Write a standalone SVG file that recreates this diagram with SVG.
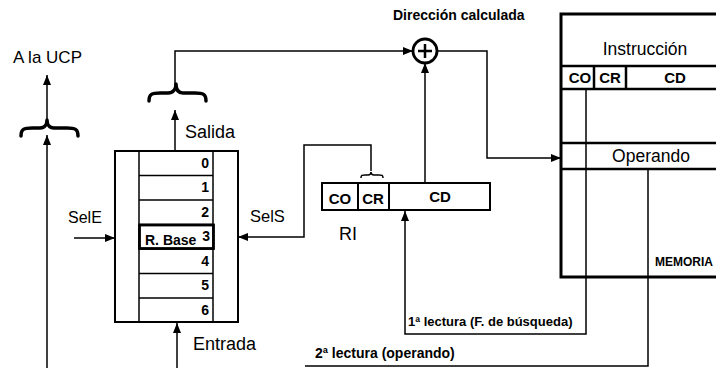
<svg xmlns="http://www.w3.org/2000/svg" width="716" height="368" viewBox="0 0 716 368">
<defs>
<marker id="ah" viewBox="0 0 10 8" refX="10" refY="4" markerWidth="10" markerHeight="8" markerUnits="userSpaceOnUse" orient="auto">
<path d="M0,0 L10,4 L0,8 Z" fill="#000"/>
</marker>
<style>
text{font-family:"Liberation Sans",Arial,sans-serif;fill:#000}
.b{font-weight:bold}
.c{stroke:#000;stroke-width:1.5;fill:none}
.a{marker-end:url(#ah)}
.box{stroke:#000;stroke-width:2;fill:#fff}
.thick{stroke:#000;stroke-width:3;fill:none}
.brace{stroke:#000;stroke-width:3.5;fill:none;stroke-linecap:round;stroke-linejoin:round}
</style>
</defs>
<rect width="716" height="368" fill="#fff"/>

<g id="connectors">
<path class="c a" d="M47,368 V135"/>
<path class="c a" d="M47,119 V75"/>
<path class="c a" d="M74,238 H115"/>
<path class="c a" d="M175,151 V110"/>
<path class="c a" d="M177,368 V323"/>
<path class="c a" d="M175,85 V51 H413"/>
<path class="c a" d="M437,51 H487 V158 H561"/>
<path class="c a" d="M425,183 V63"/>
<path class="c a" d="M371,171 V145 H304 V237 H238"/>
<path class="c a" d="M586,277 V334 H405 V211"/>
<path class="c" d="M648,169 V366 H305"/>
</g>

<g id="ucp">
<text x="13" y="63" font-size="17">A la UCP</text>
<path class="brace" d="M21,136 C21,129 24,128 32,128 L40,128 C45,128 47,124 47,120 C47,124 49,128 54,128 L67,128 C75,128 78,129 78,136"/>
</g>

<g id="salida-brace">
<path class="brace" d="M149,101 C149,94 152,93 160,93 L168,93 C173,93 176,89 176,84 C176,89 178,93 183,93 L195,93 C203,93 206,94 206,101"/>
<text x="185" y="138" font-size="18">Salida</text>
</g>

<g id="registers">
<rect class="box" x="115" y="151" width="123" height="171"/>
<line class="c" x1="139" y1="151" x2="139" y2="322"/>
<line class="c" x1="213" y1="151" x2="213" y2="322"/>
<line class="c" x1="139" y1="175.5" x2="213" y2="175.5"/>
<line class="c" x1="139" y1="200" x2="213" y2="200"/>
<line class="c" x1="139" y1="224.5" x2="213" y2="224.5"/>
<line class="c" x1="139" y1="249" x2="213" y2="249"/>
<line class="c" x1="139" y1="273.5" x2="213" y2="273.5"/>
<line class="c" x1="139" y1="298" x2="213" y2="298"/>
<rect x="139.5" y="225" width="74" height="23.5" fill="none" stroke="#000" stroke-width="2.8"/>
<g class="b" font-size="14" text-anchor="end">
<text x="209" y="168">0</text>
<text x="209" y="192">1</text>
<text x="209" y="217">2</text>
<text x="210" y="241">3</text>
<text x="209" y="266">4</text>
<text x="209" y="290">5</text>
<text x="209" y="315">6</text>
</g>
<text class="b" x="145" y="245" font-size="14">R. Base</text>
<text x="68" y="223" font-size="16">SelE</text>
<text x="250" y="222" font-size="16.5">SelS</text>
<text x="193" y="350" font-size="18">Entrada</text>
</g>

<g id="adder">
<circle cx="425" cy="51" r="12" fill="#fff" stroke="#000" stroke-width="2.8"/>
<path d="M425,44 V58 M418,51 H432" stroke="#000" stroke-width="2.5"/>
<text class="b" x="393" y="20" font-size="14">Dirección calculada</text>
</g>

<g id="ri">
<rect class="box" x="389" y="183" width="101" height="27"/>
<rect class="box" x="322" y="183" width="36" height="27" stroke-width="2.5"/>
<rect class="box" x="358" y="183" width="31" height="27" stroke-width="2.5"/>
<g class="b" font-size="15" text-anchor="middle">
<text x="340" y="204">CO</text>
<text x="373" y="204">CR</text>
<text x="440" y="202">CD</text>
</g>
<path class="c" d="M361,178 C361,175 362,175 365,175 L368,175 C370,175 371,174 371,172 C371,174 372,175 374,175 L379,175 C382,175 383,175 383,178"/>
<text x="339" y="240" font-size="18">RI</text>
</g>

<g id="memoria">
<path class="thick" d="M716,14 H561 V277 H716"/>
<line x1="561" y1="66" x2="716" y2="66" stroke="#000" stroke-width="2.5"/>
<line x1="561" y1="89" x2="716" y2="89" stroke="#000" stroke-width="2.5"/>
<line x1="594" y1="66" x2="594" y2="89" stroke="#000" stroke-width="2.5"/>
<line x1="626" y1="66" x2="626" y2="89" stroke="#000" stroke-width="2.5"/>
<line class="c" x1="586" y1="89" x2="586" y2="277"/>
<line x1="561" y1="143" x2="716" y2="143" stroke="#000" stroke-width="2.5"/>
<line x1="561" y1="169" x2="716" y2="169" stroke="#000" stroke-width="2.5"/>
<text x="645" y="55" font-size="17.5" text-anchor="middle">Instrucción</text>
<g class="b" font-size="15" text-anchor="middle">
<text x="580" y="83">CO</text>
<text x="610" y="83">CR</text>
<text x="675" y="83">CD</text>
</g>
<text x="651" y="162" font-size="17.5" text-anchor="middle">Operando</text>
<text class="b" x="655" y="266" font-size="12">MEMORIA</text>
</g>

<g id="labels">
<text class="b" x="408" y="326" font-size="13">1ª lectura (F. de búsqueda)</text>
<text class="b" x="315" y="358" font-size="14">2ª lectura (operando)</text>
</g>
</svg>
